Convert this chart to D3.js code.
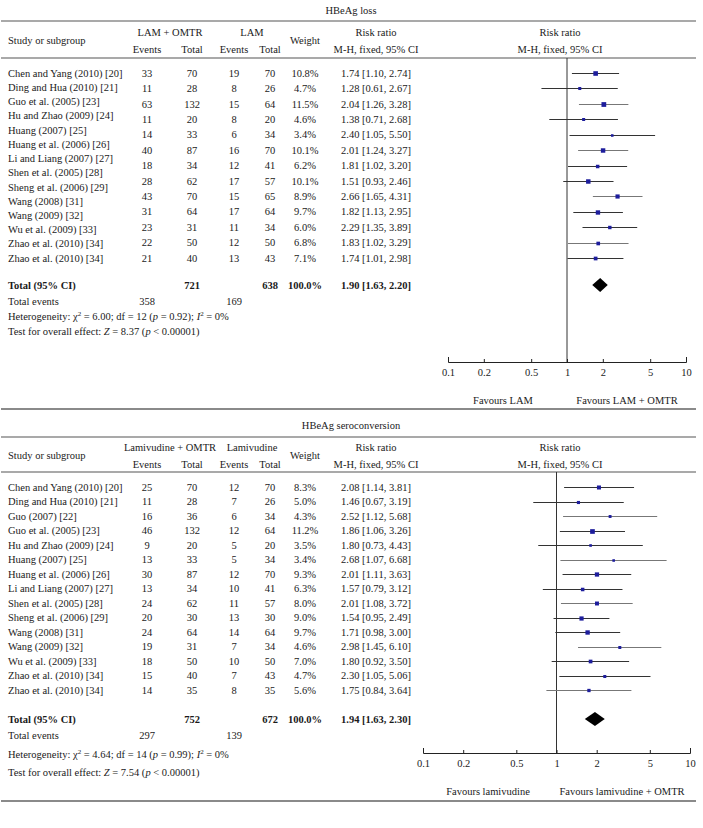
<!DOCTYPE html>
<html><head><meta charset="utf-8">
<script src="https://cdn.jsdelivr.net/npm/d3@7"></script>
<style>
html,body{margin:0;padding:0;background:#fff;}
text{font-family:"Liberation Serif","DejaVu Serif",serif;font-size:10.5px;fill:#1a1a1a;}
</style></head>
<body>
<svg id="c" width="703" height="828"></svg>
<script>
// ---------- DATA ----------
const tickValues = [0.1, 0.2, 0.5, 1, 2, 5, 10];

// Panel 1: HBeAg loss
const title1 = "HBeAg loss";
const groups1 = ["LAM + OMTR", "LAM"];
const names1 = ["Chen and Yang (2010) [20]", "Ding and Hua (2010) [21]", "Guo et al. (2005) [23]", "Hu and Zhao (2009) [24]",
  "Huang (2007) [25]", "Huang et al. (2006) [26]", "Li and Liang (2007) [27]", "Shen et al. (2005) [28]",
  "Sheng et al. (2006) [29]", "Wang (2008) [31]", "Wang (2009) [32]", "Wu et al. (2009) [33]",
  "Zhao et al. (2010) [34]", "Zhao et al. (2010) [34]"];
const evA1 = [33, 11, 63, 11, 14, 40, 18, 28, 43, 31, 23, 22, 21];
const totA1 = [70, 28, 132, 20, 33, 87, 34, 62, 70, 64, 31, 50, 40];
const evB1 = [19, 8, 15, 8, 6, 16, 12, 17, 15, 17, 11, 12, 13];
const totB1 = [70, 26, 64, 20, 34, 70, 41, 57, 65, 64, 34, 50, 43];
const weight1 = [10.8, 4.7, 11.5, 4.6, 3.4, 10.1, 6.2, 10.1, 8.9, 9.7, 6.0, 6.8, 7.1];
const rr1 = [1.74, 1.28, 2.04, 1.38, 2.40, 2.01, 1.81, 1.51, 2.66, 1.82, 2.29, 1.83, 1.74];
const lo1 = [1.10, 0.61, 1.26, 0.71, 1.05, 1.24, 1.02, 0.93, 1.65, 1.13, 1.35, 1.02, 1.01];
const hi1 = [2.74, 2.67, 3.28, 2.68, 5.50, 3.27, 3.20, 2.46, 4.31, 2.95, 3.89, 3.29, 2.98];
const total1 = {totA: 721, totB: 638, weight: "100.0%", rr: 1.90, lo: 1.63, hi: 2.20, evA: 358, evB: 169};
const het1 = {chi2: "6.00", df: 12, p: "0.92", i2: "0%"};
const test1 = {z: "8.37", p: "0.00001"};
const favours1 = ["Favours LAM", "Favours LAM + OMTR"];

// Panel 2: HBeAg seroconversion
const title2 = "HBeAg seroconversion";
const groups2 = ["Lamivudine + OMTR", "Lamivudine"];
const names2 = ["Chen and Yang (2010) [20]", "Ding and Hua (2010) [21]", "Guo (2007) [22]", "Guo et al. (2005) [23]",
  "Hu and Zhao (2009) [24]", "Huang (2007) [25]", "Huang et al. (2006) [26]", "Li and Liang (2007) [27]",
  "Shen et al. (2005) [28]", "Sheng et al. (2006) [29]", "Wang (2008) [31]", "Wang (2009) [32]",
  "Wu et al. (2009) [33]", "Zhao et al. (2010) [34]", "Zhao et al. (2010) [34]"];
const evA2 = [25, 11, 16, 46, 9, 13, 30, 13, 24, 20, 24, 19, 18, 15, 14];
const totA2 = [70, 28, 36, 132, 20, 33, 87, 34, 62, 30, 64, 31, 50, 40, 35];
const evB2 = [12, 7, 6, 12, 5, 5, 12, 10, 11, 13, 14, 7, 10, 7, 8];
const totB2 = [70, 26, 34, 64, 20, 34, 70, 41, 57, 30, 64, 34, 50, 43, 35];
const weight2 = [8.3, 5.0, 4.3, 11.2, 3.5, 3.4, 9.3, 6.3, 8.0, 9.0, 9.7, 4.6, 7.0, 4.7, 5.6];
const rr2 = [2.08, 1.46, 2.52, 1.86, 1.80, 2.68, 2.01, 1.57, 2.01, 1.54, 1.71, 2.98, 1.80, 2.30, 1.75];
const lo2 = [1.14, 0.67, 1.12, 1.06, 0.73, 1.07, 1.11, 0.79, 1.08, 0.95, 0.98, 1.45, 0.92, 1.05, 0.84];
const hi2 = [3.81, 3.19, 5.68, 3.26, 4.43, 6.68, 3.63, 3.12, 3.72, 2.49, 3.00, 6.10, 3.50, 5.06, 3.64];
const total2 = {totA: 752, totB: 672, weight: "100.0%", rr: 1.94, lo: 1.63, hi: 2.30, evA: 297, evB: 139};
const het2 = {chi2: "4.64", df: 14, p: "0.99", i2: "0%"};
const test2 = {z: "7.54", p: "0.00001"};
const favours2 = ["Favours lamivudine", "Favours lamivudine + OMTR"];

// ---------- LAYOUT ----------
const cols = {name: 8, evA: 147, totA: 192, evB: 234, totB: 270, weight: 305, rr: 376, plotHdr: 560};
const L1 = {titleY: 10, topLine: 21, hdr1: 32, hdrMid: 40, hdr2: 49, hdrLine: 58, rowFirst: 73, rowLast: 258,
  totalY: 285, evY: 301, hetY: 316, testY: 331, axisY: 362, favY: 400, sepY: 409, xMin: 448, xMax: 686, fav1: 503, fav2: 627};
const L2 = {titleY: 425, topLine: 437, hdr1: 447, hdrMid: 455, hdr2: 464, hdrLine: 472, rowFirst: 487, rowLast: 690,
  totalY: 719, evY: 735, hetY: 754, testY: 772, axisY: 753, favY: 791, sepY: 801, xMin: 423, xMax: 690, fav1: 488, fav2: 622};

const svg = d3.select("#c");
const fmt = d3.format(".2f");

function txt(g, x, y, s, anchor, bold) {
  return g.append("text").attr("x", x).attr("y", y).attr("dy", "0.35em")
    .attr("text-anchor", anchor || "start").style("font-weight", bold ? "bold" : null).text(s);
}
function hline(g, y, x0, x1, color, w) {
  g.append("line").attr("x1", x0).attr("x2", x1).attr("y1", y).attr("y2", y)
    .attr("stroke", color).attr("stroke-width", w);
}

function drawPanel(P) {
  const L = P.L;
  const g = svg.append("g");
  // title and header
  txt(g, 351, L.titleY, P.title, "middle");
  hline(g, L.topLine, 1, 696, "#555", 1.2);
  txt(g, 170, L.hdr1, P.groups[0], "middle");
  txt(g, 252, L.hdr1, P.groups[1], "middle");
  txt(g, cols.rr, L.hdr1, "Risk ratio", "middle");
  txt(g, cols.plotHdr, L.hdr1, "Risk ratio", "middle");
  txt(g, cols.name, L.hdrMid, "Study or subgroup", "start");
  txt(g, cols.weight, L.hdrMid, "Weight", "middle");
  txt(g, cols.evA, L.hdr2, "Events", "middle");
  txt(g, cols.totA, L.hdr2, "Total", "middle");
  txt(g, cols.evB, L.hdr2, "Events", "middle");
  txt(g, cols.totB, L.hdr2, "Total", "middle");
  txt(g, cols.rr, L.hdr2, "M-H, fixed, 95% CI", "middle");
  txt(g, cols.plotHdr, L.hdr2, "M-H, fixed, 95% CI", "middle");
  hline(g, L.hdrLine, 1, 696, "#555", 1.2);

  // row scales
  const n = P.rr.length;
  const yName = d3.scalePoint().domain(d3.range(P.names.length)).range([L.rowFirst, L.rowLast]);
  const yRow = d3.scalePoint().domain(d3.range(n)).range([L.rowFirst, L.rowLast]);
  const x = d3.scaleLog().domain([0.1, 10]).range([L.xMin, L.xMax]);

  P.names.forEach((s, i) => txt(g, cols.name, yName(i), s, "start"));
  d3.range(n).forEach(i => {
    const y = yRow(i);
    txt(g, cols.evA, y, P.evA[i], "middle");
    txt(g, cols.totA, y, P.totA[i], "middle");
    txt(g, cols.evB, y, P.evB[i], "middle");
    txt(g, cols.totB, y, P.totB[i], "middle");
    txt(g, cols.weight, y, P.weight[i].toFixed(1) + "%", "middle");
    txt(g, cols.rr, y, `${fmt(P.rr[i])} [${fmt(P.lo[i])}, ${fmt(P.hi[i])}]`, "middle");
  });

  // vertical line at 1
  g.append("line").attr("x1", x(1)).attr("x2", x(1)).attr("y1", L.hdrLine).attr("y2", L.axisY)
    .attr("stroke", "#333").attr("stroke-width", 1);

  // CIs and squares
  const gp = g.append("g");
  d3.range(n).forEach(i => {
    const y = Math.round(yRow(i)) + 0.5;
    gp.append("line").attr("x1", x(P.lo[i])).attr("x2", x(P.hi[i])).attr("y1", y).attr("y2", y)
      .attr("stroke", i % 3 === 2 ? "#777" : "#333").attr("stroke-width", 1);
    const s = Math.max(2.5, Math.sqrt(P.weight[i]) * 1.4);
    gp.append("rect").attr("x", x(P.rr[i]) - s / 2).attr("y", y - s / 2).attr("width", s).attr("height", s)
      .attr("fill", "#1d1d9c");
  });

  // total row
  const T = P.total;
  txt(g, cols.name, L.totalY, "Total (95% CI)", "start", true);
  txt(g, cols.totA, L.totalY, T.totA, "middle", true);
  txt(g, cols.totB, L.totalY, T.totB, "middle", true);
  txt(g, cols.weight, L.totalY, T.weight, "middle", true);
  txt(g, cols.rr, L.totalY, `${fmt(T.rr)} [${fmt(T.lo)}, ${fmt(T.hi)}]`, "middle", true);
  const dh = 7;
  g.append("path").attr("fill", "#000")
    .attr("d", `M${x(T.lo)},${L.totalY} L${x(T.rr)},${L.totalY - dh} L${x(T.hi)},${L.totalY} L${x(T.rr)},${L.totalY + dh} Z`);

  txt(g, cols.name, L.evY, "Total events", "start");
  txt(g, cols.evA, L.evY, T.evA, "middle");
  txt(g, cols.evB, L.evY, T.evB, "middle");

  // heterogeneity
  const h = g.append("text").attr("x", cols.name).attr("y", L.hetY).attr("dy", "0.35em");
  h.append("tspan").text("Heterogeneity: \u03c7");
  h.append("tspan").attr("dy", -4).style("font-size", "7px").text("2");
  h.append("tspan").attr("dy", 4).text(` = ${P.het.chi2}; df = ${P.het.df} (`);
  h.append("tspan").style("font-style", "italic").text("p");
  h.append("tspan").text(` = ${P.het.p}); `);
  h.append("tspan").style("font-style", "italic").text("I");
  h.append("tspan").attr("dy", -4).style("font-size", "7px").text("2");
  h.append("tspan").attr("dy", 4).text(` = ${P.het.i2}`);

  const t = g.append("text").attr("x", cols.name).attr("y", L.testY).attr("dy", "0.35em");
  t.append("tspan").text("Test for overall effect: ");
  t.append("tspan").style("font-style", "italic").text("Z");
  t.append("tspan").text(` = ${P.test.z} (`);
  t.append("tspan").style("font-style", "italic").text("p");
  t.append("tspan").text(` < ${P.test.p})`);

  // axis
  const ax = g.append("g").attr("transform", `translate(0,${L.axisY})`)
    .call(d3.axisBottom(x).tickValues(tickValues).tickFormat(d => String(d))
      .tickSizeInner(-3).tickSizeOuter(-5).tickPadding(7));
  ax.select(".domain").attr("stroke", "#222");
  ax.selectAll(".tick line").attr("stroke", "#222");
  ax.selectAll(".tick text").attr("fill", "#1a1a1a")
    .style("font-family", '"Liberation Serif","DejaVu Serif",serif').style("font-size", "10.5px");

  txt(g, L.fav1, L.favY, P.favours[0], "middle");
  txt(g, L.fav2, L.favY, P.favours[1], "middle");
  hline(g, L.sepY, 1, 696, "#8a8a8a", 2);
}

drawPanel({L: L1, title: title1, groups: groups1, names: names1, evA: evA1, totA: totA1, evB: evB1, totB: totB1,
  weight: weight1, rr: rr1, lo: lo1, hi: hi1, total: total1, het: het1, test: test1, favours: favours1});
drawPanel({L: L2, title: title2, groups: groups2, names: names2, evA: evA2, totA: totA2, evB: evB2, totB: totB2,
  weight: weight2, rr: rr2, lo: lo2, hi: hi2, total: total2, het: het2, test: test2, favours: favours2});
</script>
</body></html>
